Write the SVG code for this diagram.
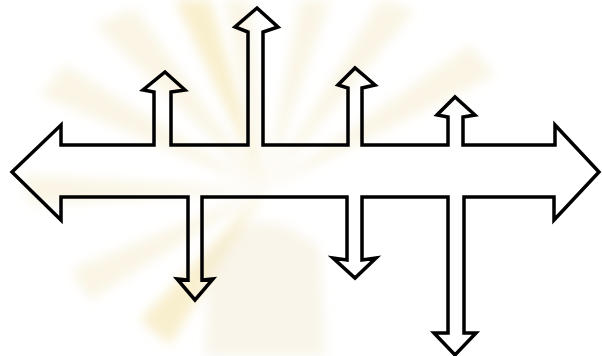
<svg xmlns="http://www.w3.org/2000/svg" width="602" height="356" viewBox="0 0 602 356">
<defs>
<filter id="soft" x="-10%" y="-10%" width="120%" height="120%"><feGaussianBlur stdDeviation="6"/></filter>
</defs>
<style>
.ray{fill:#f6ecd0;opacity:0.55}
.ray2{fill:#f2df9e;opacity:0.5}
.outline{fill:none;stroke:#000;stroke-width:3.5;stroke-linejoin:miter;stroke-linecap:square}
</style>
<rect width="602" height="356" fill="#fff"/>
<g id="watermark" filter="url(#soft)">
<polygon class="ray" points="265,190 40,95 65,65"/>
<polygon class="ray" points="265,190 95,25 135,8"/>
<polygon class="ray2" points="265,190 175,0 210,0"/>
<polygon class="ray" points="265,190 225,0 250,0"/>
<polygon class="ray" points="265,190 300,0 330,0"/>
<polygon class="ray" points="265,190 380,0 415,10"/>
<polygon class="ray" points="265,190 470,45 495,75"/>
<polygon class="ray" points="265,190 25,175 30,205"/>
<polygon class="ray" points="265,190 70,270 90,300"/>
<polygon class="ray2" points="265,190 140,320 170,345"/>
<path d="M205,356 L210,250 Q265,195 320,250 L325,356 Z" fill="#f3ecd6" opacity="0.5"/>
</g>
<g id="arrow">
<path class="outline" d="M12,172 L61,125 L61,145 L154,145 L154,92 L143,90 L165,72 L185,90 L171,92 L171,145 L248,145 L248,32 L235,27 L257,8 L278,27 L263,32 L263,145 L348,145 L348,88 L338,85 L355,68 L375,85 L362,88 L362,145 L448,145 L448,117 L437,115 L455,97 L475,115 L463,117 L463,145 L555,145 L555,125 L599,172 L554,220 L554,197 L464,197 L464,333 L476,333 L455,355 L434,333 L448,333 L448,197 L362,197 L362,260 L376,258 L355,278 L333,258 L347,260 L347,197 L202,197 L202,280 L213,279 L195,300 L177,279 L188,280 L188,197 L61,197 L61,220 Z"/>
</g>
</svg>
